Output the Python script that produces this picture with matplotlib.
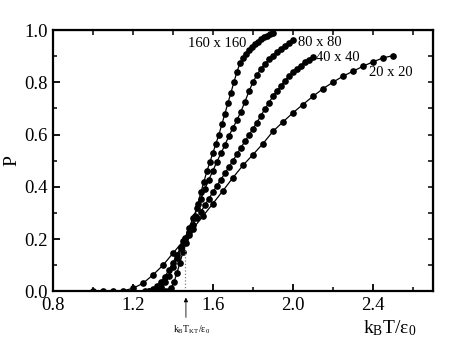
import numpy as np
import matplotlib
matplotlib.use('Agg')
import matplotlib.pyplot as plt

plt.rcParams['font.family'] = ['Liberation Serif', 'DejaVu Serif']
plt.rcParams['mathtext.fontset'] = 'custom'
plt.rcParams['mathtext.rm'] = 'Liberation Serif'
plt.rcParams['mathtext.it'] = 'Liberation Serif:italic'

# P vs k_B T / eps_0 for four lattice sizes
t_20 = [1.00, 1.05, 1.10, 1.15, 1.20, 1.25, 1.30, 1.35, 1.40, 1.45, 1.50,
        1.55, 1.60, 1.65, 1.70, 1.75, 1.80, 1.85, 1.90, 1.95, 2.00, 2.05,
        2.10, 2.15, 2.20, 2.25, 2.30, 2.35, 2.40, 2.45, 2.50]
p_20 = [0.000, 0.000, 0.000, 0.002, 0.012, 0.031, 0.063, 0.100, 0.146, 0.191,
        0.240, 0.288, 0.336, 0.385, 0.435, 0.482, 0.523, 0.565, 0.612, 0.648,
        0.683, 0.715, 0.746, 0.775, 0.800, 0.823, 0.842, 0.861, 0.878, 0.893,
        0.902]

t_40 = [1.26, 1.28, 1.30, 1.32, 1.34, 1.36, 1.38, 1.40, 1.42, 1.44, 1.46,
        1.48, 1.50, 1.52, 1.54, 1.56, 1.58, 1.60, 1.62, 1.64, 1.66, 1.68,
        1.70, 1.72, 1.74, 1.76, 1.78, 1.80, 1.82, 1.84, 1.86, 1.88, 1.90,
        1.92, 1.94, 1.96, 1.98, 2.00, 2.02, 2.04, 2.06, 2.08, 2.10]
p_40 = [0.000, 0.003, 0.009, 0.020, 0.036, 0.057, 0.082, 0.110, 0.140, 0.170,
        0.200, 0.228, 0.254, 0.280, 0.305, 0.330, 0.355, 0.380, 0.404, 0.428,
        0.452, 0.476, 0.500, 0.525, 0.550, 0.574, 0.598, 0.622, 0.646, 0.672,
        0.698, 0.722, 0.746, 0.768, 0.787, 0.806, 0.823, 0.838, 0.852, 0.864,
        0.877, 0.887, 0.896]

t_80 = [1.28, 1.30, 1.32, 1.34, 1.36, 1.38, 1.40, 1.42, 1.44, 1.46, 1.48,
        1.50, 1.52, 1.54, 1.56, 1.58, 1.60, 1.62, 1.64, 1.66, 1.68, 1.70,
        1.72, 1.74, 1.76, 1.78, 1.80, 1.82, 1.84, 1.86, 1.88, 1.90, 1.92,
        1.94, 1.96, 1.98, 2.00]
p_80 = [0.000, 0.002, 0.007, 0.018, 0.035, 0.060, 0.092, 0.128, 0.165, 0.204,
        0.242, 0.280, 0.318, 0.355, 0.392, 0.428, 0.462, 0.496, 0.528, 0.560,
        0.595, 0.625, 0.655, 0.688, 0.725, 0.765, 0.800, 0.828, 0.852, 0.870,
        0.888, 0.902, 0.915, 0.927, 0.940, 0.951, 0.961]

t_160 = [1.360, 1.375, 1.390, 1.405, 1.420, 1.435, 1.450, 1.465, 1.480,
         1.495, 1.510, 1.525, 1.540, 1.555, 1.570, 1.585, 1.600, 1.615,
         1.630, 1.645, 1.660, 1.675, 1.690, 1.705, 1.720, 1.735, 1.750,
         1.765, 1.780, 1.795, 1.810, 1.825, 1.840, 1.855, 1.870, 1.885, 1.900]
p_160 = [0.000, 0.003, 0.012, 0.035, 0.070, 0.110, 0.150, 0.185, 0.215,
         0.250, 0.290, 0.335, 0.380, 0.420, 0.460, 0.495, 0.530, 0.565,
         0.600, 0.640, 0.680, 0.720, 0.760, 0.800, 0.840, 0.872, 0.893,
         0.908, 0.922, 0.934, 0.945, 0.955, 0.964, 0.972, 0.978, 0.983, 0.987]

series = [(t_20, p_20, '20 x 20', (2.38, 0.838)),
          (t_40, p_40, '40 x 40', (2.115, 0.895)),
          (t_80, p_80, '80 x 80', (2.025, 0.952)),
          (t_160, p_160, '160 x 160', (1.475, 0.948))]

t_kt = 1.465

fig = plt.figure(figsize=(4.57, 3.49), dpi=100)
ax = fig.add_axes([0.116, 0.165, 0.831, 0.749])

for t, p, name, (lx, ly) in series:
    ax.plot(t, p, '-o', color='black', lw=0.9, markersize=3.8)
    ax.text(lx, ly, name, fontsize=10.5, ha='left', va='center')

ax.plot([t_kt - 0.005, t_kt - 0.005], [0, 0.17], ':', color='0.5', lw=0.9)

ax.set_xlim(0.8, 2.7)
ax.set_ylim(0, 1.0)
ax.set_xticks([0.8, 1.2, 1.6, 2.0, 2.4])
ax.set_xticks(np.arange(1.0, 2.7, 0.4), minor=True)
ax.set_yticks(np.arange(0, 1.01, 0.2))
ax.set_yticks(np.arange(0.1, 1.0, 0.2), minor=True)
ax.tick_params(which='major', direction='in', length=5, width=1.3,
               labelsize=13.5, pad=4)
ax.tick_params(which='minor', direction='in', length=3, width=1.1)
for s in ax.spines.values():
    s.set_linewidth(1.6)

top = ax.secondary_xaxis('top')
top.set_xticks(np.arange(0.8, 2.71, 0.2))
top.tick_params(direction='in', length=3.5, width=1.1, labeltop=False)
right = ax.secondary_yaxis('right')
right.set_yticks(np.arange(0, 1.01, 0.1))
right.tick_params(direction='in', length=3.5, width=1.1, labelright=False)

ax.annotate('', xy=(t_kt, -0.013), xytext=(t_kt, -0.11),
            arrowprops=dict(arrowstyle='-|>', lw=0.6, color='black',
                            mutation_scale=6),
            annotation_clip=False)
ax.text(t_kt + 0.03, -0.145, r'$\mathregular{k_B T_{KT}/\varepsilon_0}$',
        fontsize=7, ha='center', va='center', clip_on=False)

fig.text(12 / 457, 0.54, 'P', fontsize=14, rotation=90,
         ha='center', va='center')
fig.text(363 / 457, 0.046, r'$\mathregular{k_B T/\varepsilon_0}$',
         fontsize=14, ha='left', va='baseline')

fig.savefig('out.png', dpi=100)
